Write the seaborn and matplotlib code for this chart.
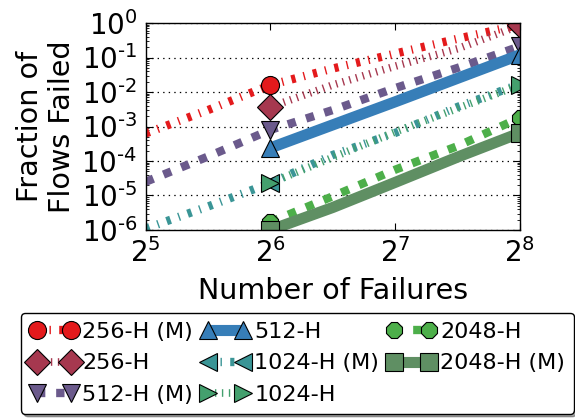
import numpy as np
import pandas as pd
import matplotlib
matplotlib.use("Agg")
import matplotlib.pyplot as plt
from matplotlib.ticker import LogLocator, FuncFormatter
import seaborn as sns

# ---------------- data ----------------
x_model = [32, 45.25, 64, 90.5, 128, 181, 256]
x_meas5 = [64, 90.5, 128, 181, 256]
x_meas3 = [64, 128, 256]

labels = ["256-H (M)", "256-H", "512-H (M)", "512-H",
          "1024-H (M)", "1024-H", "2048-H", "2048-H (M)"]

y_256_model = [6.3e-4, 3.0e-3, 0.016, 0.048, 0.13, 0.35, 0.9]
y_256 = [0.0037, 0.016, 0.056, 0.18, 0.85]
y_512_model = [2.5e-5, 1.35e-4, 8.0e-4, 3.0e-3, 0.013, 0.05, 0.21]
y_512 = [2.4e-4, 5.2e-3, 0.12]
y_1024_model = [1.1e-6, 4.8e-6, 2.3e-5, 1.5e-4, 6.5e-4, 3.7e-3, 0.017]
y_1024 = [2.3e-5, 7.0e-4, 0.016]
y_2048 = [1.7e-6, 9.5e-6, 5.6e-5, 2.7e-4, 1.8e-3]
y_2048_model = [1.0e-6, 4.5e-6, 2.4e-5, 1.3e-4, 6.5e-4]

xticks = [32, 64, 128, 256]
yticks = [1e-6, 1e-5, 1e-4, 1e-3, 1e-2, 1e-1, 1e0]

# ---------------- style ----------------
sns.set_style("ticks")
plt.rcParams["font.family"] = ["DejaVu Sans"]
plt.rcParams["mathtext.fontset"] = "dejavusans"
plt.rcParams["lines.scale_dashes"] = False
for k in ["text.color", "axes.labelcolor", "xtick.color", "ytick.color",
          "axes.edgecolor"]:
    plt.rcParams[k] = "black"

series = [
    (labels[0], x_model, y_256_model, "#e41a1c", "o", 6.0, (0, (3, 6, 1, 6)), [2, 6]),
    (labels[1], x_meas5, y_256, "#a6384f", "D", 5.5, (0, (1, 4)), [0, 4]),
    (labels[2], x_model, y_512_model, "#6b5a8c", "v", 6.0, (0, (6, 7.8)), [2, 6]),
    (labels[3], x_meas3, y_512, "#377eb8", "^", 8.0, "-", [0, 2]),
    (labels[4], x_model, y_1024_model, "#3a9596", "<", 6.0, (0, (3, 6, 1, 6)), [2, 6]),
    (labels[5], x_meas3, y_1024, "#44a06e", ">", 5.5, (0, (1, 4)), [0, 2]),
    (labels[6], x_meas5, y_2048, "#4daf4a", "8", 6.0, (0, (6, 7.8)), [0, 4]),
    (labels[7], x_meas5, y_2048_model, "#5f8f63", "s", 8.0, "-", [0, 4]),
]

fig = plt.figure(figsize=(5.75, 4.2), dpi=100)
ax = fig.add_axes([0.2534, 0.4524, 0.9043 - 0.2534, 0.9452 - 0.4524])
ax.set_xscale("log", base=2)
ax.set_yscale("log", base=10)

for lab, xs, ys, col, mk, lw, ls, me in series:
    df = pd.DataFrame({"x": xs, "y": ys})
    sns.lineplot(data=df, x="x", y="y", ax=ax, color=col, marker=mk,
                 markersize=13, markeredgecolor="black", markeredgewidth=0.8,
                 linewidth=lw, linestyle=ls, markevery=me, label=lab,
                 errorbar=None, sort=False, solid_capstyle="butt",
                 dash_capstyle="butt")

leg = ax.get_legend()
if leg is not None:
    leg.remove()

ax.set_xlim(32, 256)
ax.set_ylim(1e-6, 1e0)
ax.set_xticks(xticks)
ax.set_yticks(yticks)


def pow_fmt(base):
    def f(v, pos):
        e = int(round(np.log(v) / np.log(base)))
        es = str(abs(e))
        if e < 0:
            es = "\u2010" + es
        return r"$\mathdefault{%d^{%s}}$" % (base, es)
    return FuncFormatter(f)


ax.xaxis.set_major_formatter(pow_fmt(2))
ax.yaxis.set_major_formatter(pow_fmt(10))
ax.yaxis.set_minor_locator(LogLocator(base=10, subs=np.arange(2, 10), numticks=20))
ax.yaxis.set_minor_formatter(FuncFormatter(lambda v, p: ""))
ax.yaxis.grid(True, which="major", color="black", linestyle=(0, (1, 3)), linewidth=0.9)
ax.xaxis.grid(False)

ax.tick_params(which="both", direction="in", top=True, right=True,
               bottom=True, left=True, colors="black", labelcolor="black")
ax.tick_params(which="major", length=5, width=0.8, labelsize=20, pad=6)
ax.tick_params(which="minor", length=2.5, width=0.6)
for sp in ax.spines.values():
    sp.set_visible(True)
    sp.set_color("black")
    sp.set_linewidth(1.0)

ax.set_xlabel("Number of Failures", fontsize=20.6, labelpad=6, color="black")
ax.set_ylabel("Fraction of\nFlows Failed", fontsize=20.6, color="black")
ax.yaxis.set_label_coords(-0.185, 0.5)

handles, labs = ax.get_legend_handles_labels()
fig.legend(handles, labs, loc="upper left",
           bbox_to_anchor=(21 / 575, 1 - 313 / 420), borderaxespad=0,
           ncol=3, fontsize=16, numpoints=2, handlelength=2.16,
           handletextpad=0.2, columnspacing=0.39, labelspacing=0.52,
           borderpad=0.4, frameon=True, fancybox=True, shadow=True,
           edgecolor="black", framealpha=1)

fig.savefig("out.png", dpi=100)
